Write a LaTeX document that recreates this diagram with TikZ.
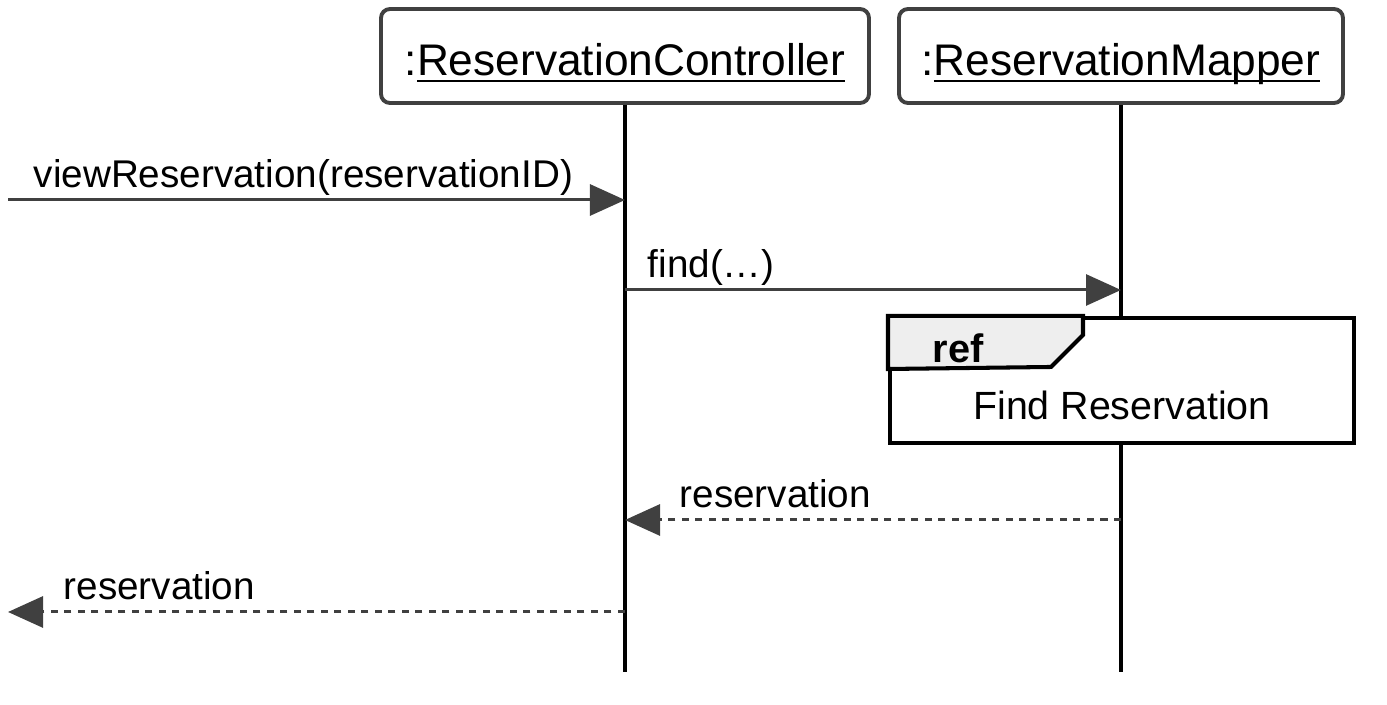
\documentclass[tikz,border=0pt]{standalone}
\usepackage{fontspec}
\setmainfont{Liberation Sans}
\usetikzlibrary{arrows.meta}
\definecolor{msggray}{HTML}{404040}
\definecolor{tabgray}{HTML}{EEEEEE}
\newcommand{\objname}[1]{:\underline{\smash{#1}}}

\begin{document}
\begin{tikzpicture}
    \tikzstyle{lifehead}=[draw=msggray,line width=1.1pt,rounded corners=0.09cm,fill=white,minimum height=0.94cm,inner sep=0pt,text height=0.46cm,text depth=0.06cm,font=\fontsize{12.6}{15}\selectfont]
    \tikzstyle{lifeline}=[line width=1pt,black]
    \tikzstyle{msg}=[draw=msggray,line width=0.85pt,-{Triangle[length=0.35cm,width=0.31cm]}]
    \tikzstyle{reply}=[msg,dash pattern=on 0.07cm off 0.065cm]
    \tikzstyle{msglabel}=[anchor=base west,inner sep=0pt,font=\fontsize{11}{13}\selectfont]
    \useasboundingbox (0,0) rectangle (13.87,-7.05);
    % objects and lifelines
    \node[lifehead,minimum width=4.88cm] (ctrl) at (6.25,-0.56) {\objname{ReservationController}};
    \node[lifehead,minimum width=4.44cm] (mapper) at (11.21,-0.56) {\objname{ReservationMapper}};
    \coordinate (ctrlend) at (6.25,-6.72);
    \coordinate (mapperend) at (11.21,-6.72);
    \draw[lifeline] (ctrl.south) -- (ctrlend);
    \draw[lifeline] (mapper.south) -- (mapperend);
    % calls
    \coordinate (gatein) at (0.08,-2.00);
    \draw[msg] (gatein) -- (gatein -| ctrl);
    \node[msglabel] (viewlabel) at (0.33,-1.88) {viewReservation(reservationID)};
    \coordinate (findstart) at (6.25,-2.90);
    \draw[msg] (findstart) -- (findstart -| mapper);
    \node[msglabel] (findlabel) at (6.47,-2.78) {find(\dots)};
    % interaction use
    \node[draw=black,line width=1.15pt,fill=white,minimum width=4.64cm,minimum height=1.25cm,inner sep=0pt] (ref) at (11.22,-3.805) {};
    \draw[line width=1.15pt,fill=tabgray] (ref.north west) -- ++(1.95,0) -- ++(0,-0.19) -- ++(-0.32,-0.32) -- (ref.west |- 0,-3.69) -- cycle;
    \node[anchor=base west,inner sep=0pt,font=\fontsize{11.3}{13}\selectfont\bfseries] (reftag) at (9.32,-3.63) {ref};
    \node[anchor=base,inner sep=0pt,font=\fontsize{11.2}{13}\selectfont] (refname) at (11.22,-4.20) {Find Reservation};
    % replies
    \coordinate (replystart) at (11.21,-5.20);
    \draw[reply] (replystart) -- (replystart -| ctrl);
    \node[msglabel] (replylabel) at (6.79,-5.08) {reservation};
    \coordinate (gateout) at (0.08,-6.12);
    \draw[reply] (gateout -| ctrl) -- (gateout);
    \node[msglabel] (outlabel) at (0.63,-6.00) {reservation};
\end{tikzpicture}
\end{document}
